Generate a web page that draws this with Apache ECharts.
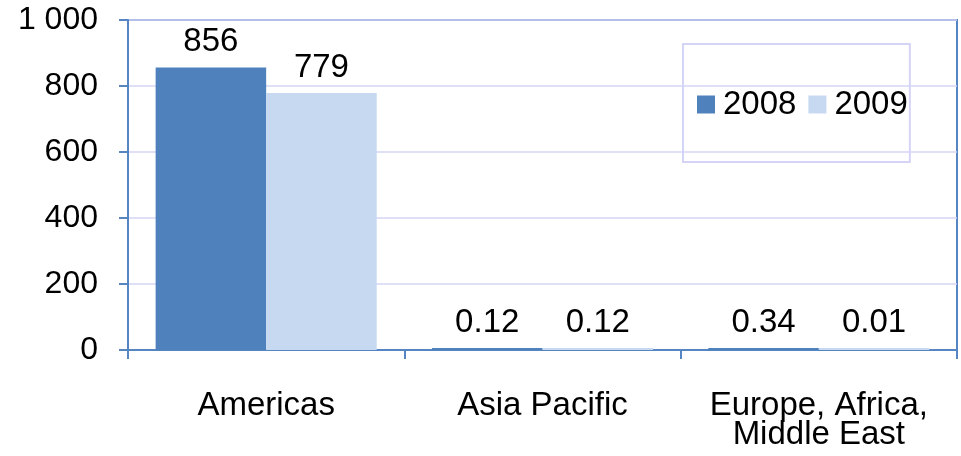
<!DOCTYPE html>
<html>
<head>
<meta charset="utf-8">
<script src="https://cdn.jsdelivr.net/npm/echarts@6/dist/echarts.min.js"></script>
<style>
  html, body { margin: 0; padding: 0; background: #ffffff; }
  #chart { width: 961px; height: 456px; }
</style>
</head>
<body>
<div id="chart"></div>
<script>
// Regions on the category axis
const regions = ['Americas', 'Asia Pacific', 'Europe, Africa,\nMiddle East'];
// Values per year
const values2008 = [856, 0.12, 0.34];
const values2009 = [779, 0.12, 0.01];
const seriesNames = ['2008', '2009'];

const FONT = 'Liberation Sans, Arial, sans-serif';
const FONT_SIZE = 33;
const AXIS_BLUE = '#5585C3';

const chart = echarts.init(document.getElementById('chart'), null, { renderer: 'canvas' });

function barSeries(name, data, color) {
  return {
    name: name,
    type: 'bar',
    data: data,
    barGap: '0%',
    barCategoryGap: '20%',
    barMinHeight: 2,
    itemStyle: { color: color },
    label: {
      show: true,
      position: 'top',
      distance: 9,
      color: '#000',
      fontFamily: FONT,
      fontSize: FONT_SIZE,
      formatter: p => String(p.value)
    }
  };
}

chart.setOption({
  animation: false,
  backgroundColor: '#ffffff',
  textStyle: { fontFamily: FONT },
  grid: {
    left: 128, right: 4, top: 20, bottom: 106,
    show: true,
    borderColor: AXIS_BLUE,
    borderWidth: 2,
    containLabel: false
  },
  legend: {
    data: seriesNames,
    left: 683,
    top: 44,
    orient: 'horizontal',
    padding: [44, 2, 41, 14],
    borderColor: '#D4D4F6',
    borderWidth: 2,
    itemWidth: 18,
    itemHeight: 18,
    itemGap: 12,
    icon: 'rect',
    textStyle: { fontFamily: FONT, fontSize: FONT_SIZE, color: '#000', padding: [4, 0, 0, 3] }
  },
  xAxis: {
    type: 'category',
    data: regions,
    axisLine: { show: true, lineStyle: { color: AXIS_BLUE, width: 2 } },
    axisTick: { show: true, length: 9, interval: 0, lineStyle: { color: AXIS_BLUE, width: 2 } },
    axisLabel: {
      interval: 0,
      color: '#000', fontFamily: FONT, fontSize: FONT_SIZE, lineHeight: 29, margin: 41
    }
  },
  yAxis: {
    type: 'value',
    min: 0, max: 1000, interval: 200,
    axisLine: { show: true, lineStyle: { color: AXIS_BLUE, width: 2 } },
    axisTick: { show: true, length: 9, lineStyle: { color: AXIS_BLUE, width: 2 } },
    splitLine: { show: true, lineStyle: { color: '#D4D4F6', width: 1.5 } },
    axisLabel: {
      color: '#000', fontFamily: FONT, fontSize: 32, margin: 30,
      formatter: v => String(v).replace(/\B(?=(\d{3})+(?!\d))/g, ' ')
    }
  },
  series: [
    barSeries(seriesNames[0], values2008, '#4F81BD'),
    barSeries(seriesNames[1], values2009, '#C6D9F1')
  ]
});
</script>
</body>
</html>
